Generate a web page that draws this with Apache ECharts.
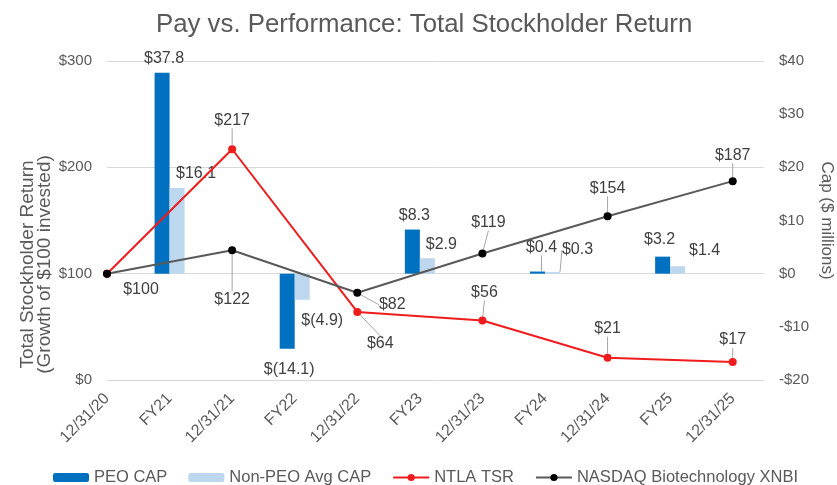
<!DOCTYPE html>
<html>
<head>
<meta charset="utf-8">
<style>
  html, body { margin: 0; padding: 0; background: #fff; }
  #chart { width: 837px; height: 485px; }
</style>
<script src="https://cdn.jsdelivr.net/npm/echarts@6/dist/echarts.min.js"></script>
</head>
<body>
<div id="chart"></div>
<script>
// x axis slots: year-end TSR points and fiscal-year CAP bars alternate
const categories = ['12/31/20', 'FY21', '12/31/21', 'FY22', '12/31/22', 'FY23',
  '12/31/23', 'FY24', '12/31/24', 'FY25', '12/31/25'];

const tsrDates = ['12/31/20', '12/31/21', '12/31/22', '12/31/23', '12/31/24', '12/31/25'];
const ntlaTsr = [100, 217, 64, 56, 21, 17];
const xnbiTsr = [100, 122, 82, 119, 154, 187];

const fiscalYears = ['FY21', 'FY22', 'FY23', 'FY24', 'FY25'];
const peoCap = [37.8, -14.1, 8.3, 0.4, 3.2];
const nonPeoCap = [16.1, -4.9, 2.9, 0.3, 1.4];

const leftTicks = [0, 100, 200, 300];
const rightTicks = [-20, -10, 0, 10, 20, 30, 40];

// label nudges (px) and which labels get a leader line
const ntlaShift = [[34, 33], [0, -12], [23, 49], [2, -11], [0, -12], [0, -5]];
const xnbiShift = [[0, 0], [0, 66], [35, 29], [6, -14], [0, -11], [0, -9]];
const peoShift = [[2, -1], [2, 8], [2, -1], [4, -11], [-3, -4]];
const nonPeoShift = [[19, -1], [20, 8], [14, -1], [25, -9], [27, -3]];
const ntlaLeader = [false, true, true, true, true, true];
const xnbiLeader = [false, true, true, true, true, true];
const peoLeader = [false, false, false, true, false];
const nonPeoLeader = [false, false, false, true, false];

const FONT = 'Liberation Sans, Arial, sans-serif';
const LABEL = '#404040';
const AXIS = '#595959';

function capText(v) {
  return v < 0 ? '$(' + Math.abs(v).toFixed(1) + ')' : '$' + v.toFixed(1);
}

function pointData(names, values, leader, hideFirst) {
  return values.map(function (v, i) {
    const item = {
      value: [categories.indexOf(names[i]), v],
      labelLine: { show: leader[i] }
    };
    if (hideFirst && i === 0) item.label = { show: false };
    return item;
  });
}

function barData(values, leader) {
  return values.map(function (v, i) {
    return {
      value: [categories.indexOf(fiscalYears[i]), v],
      label: { position: v < 0 ? 'bottom' : 'top' },
      labelLine: { show: leader[i] }
    };
  });
}

function shifter(shift) {
  return function (p) {
    const s = shift[p.dataIndex] || [0, 0];
    return { dx: s[0], dy: s[1] };
  };
}

const leaderStyle = { show: false, lineStyle: { color: '#a6a6a6', width: 1 }, length2: 0 };

const chart = echarts.init(document.getElementById('chart'));
chart.setOption({
  animation: false,
  textStyle: { fontFamily: FONT },
  title: {
    text: 'Pay vs. Performance: Total Stockholder Return',
    left: 151,
    top: 7,
    textStyle: { fontSize: 25.8, fontWeight: 'normal', color: AXIS, fontFamily: FONT }
  },
  legend: {
    left: 48,
    top: 464,
    itemWidth: 36,
    itemHeight: 9,
    itemGap: 21,
    textStyle: { fontSize: 16.5, color: AXIS, fontFamily: FONT },
    data: ['PEO CAP', 'Non-PEO Avg CAP', 'NTLA TSR', 'NASDAQ Biotechnology XNBI']
  },
  grid: { left: 107, right: 73, top: 61, bottom: 105, outerBoundsMode: 'none', containLabel: false },
  xAxis: {
    type: 'value',
    min: 0,
    max: categories.length - 0.5,
    interval: 1,
    splitLine: { show: false },
    axisLine: { show: false },
    axisTick: { show: false },
    axisLabel: {
      rotate: 45,
      margin: 16,
      fontSize: 16,
      color: AXIS,
      showMaxLabel: false,
      formatter: function (v) { return Number.isInteger(v) ? (categories[v] || '') : ''; }
    }
  },
  yAxis: [
    {
      type: 'value',
      min: leftTicks[0],
      max: leftTicks[leftTicks.length - 1],
      interval: 100,
      name: 'Total Stockholder Return\n(Growth of $100 invested)',
      nameLocation: 'middle',
      nameGap: 54,
      nameMoveOverlap: false,
      nameTextStyle: { fontSize: 19, color: AXIS, lineHeight: 17, padding: [0, 88, 0, 0] },
      axisLine: { show: false },
      axisTick: { show: false },
      axisLabel: { fontSize: 15, color: AXIS, margin: 15, formatter: function (v) { return '$' + v; } },
      splitLine: { lineStyle: { color: '#d9d9d9', width: 1 } }
    },
    {
      type: 'value',
      position: 'right',
      min: rightTicks[0],
      max: rightTicks[rightTicks.length - 1],
      interval: 10,
      name: 'Cap ($ millions)',
      nameLocation: 'middle',
      nameRotate: -90,
      nameGap: 54,
      nameMoveOverlap: false,
      nameTextStyle: { fontSize: 17, color: AXIS },
      axisLine: { show: false },
      axisTick: { show: false },
      axisLabel: {
        fontSize: 15, color: AXIS, margin: 15,
        formatter: function (v) { return v < 0 ? '-$' + Math.abs(v) : '$' + v; }
      },
      splitLine: { show: false }
    }
  ],
  series: [
    {
      name: 'PEO CAP',
      type: 'bar',
      yAxisIndex: 1,
      barWidth: 15,
      barGap: '0%',
      itemStyle: { color: '#0070c0' },
      label: { show: true, fontSize: 16, color: LABEL, formatter: function (p) { return capText(p.value[1]); } },
      labelLine: leaderStyle,
      labelLayout: shifter(peoShift),
      data: barData(peoCap, peoLeader)
    },
    {
      name: 'Non-PEO Avg CAP',
      type: 'bar',
      yAxisIndex: 1,
      barWidth: 15,
      barGap: '0%',
      itemStyle: { color: '#bdd7ee' },
      label: { show: true, fontSize: 16, color: LABEL, formatter: function (p) { return capText(p.value[1]); } },
      labelLine: leaderStyle,
      labelLayout: shifter(nonPeoShift),
      data: barData(nonPeoCap, nonPeoLeader)
    },
    {
      name: 'NTLA TSR',
      type: 'line',
      yAxisIndex: 0,
      symbol: 'circle',
      symbolSize: 8,
      lineStyle: { color: '#ee1c1c', width: 2 },
      itemStyle: { color: '#ee1c1c' },
      label: { show: true, position: 'top', fontSize: 16, color: LABEL, formatter: function (p) { return '$' + p.value[1]; } },
      labelLine: leaderStyle,
      labelLayout: shifter(ntlaShift),
      data: pointData(tsrDates, ntlaTsr, ntlaLeader, false)
    },
    {
      name: 'NASDAQ Biotechnology XNBI',
      type: 'line',
      yAxisIndex: 0,
      symbol: 'circle',
      symbolSize: 8,
      lineStyle: { color: '#595959', width: 2 },
      itemStyle: { color: '#000000' },
      label: { show: true, position: 'top', fontSize: 16, color: LABEL, formatter: function (p) { return '$' + p.value[1]; } },
      labelLine: leaderStyle,
      labelLayout: shifter(xnbiShift),
      data: pointData(tsrDates, xnbiTsr, xnbiLeader, true)
    }
  ]
});
</script>
</body>
</html>
